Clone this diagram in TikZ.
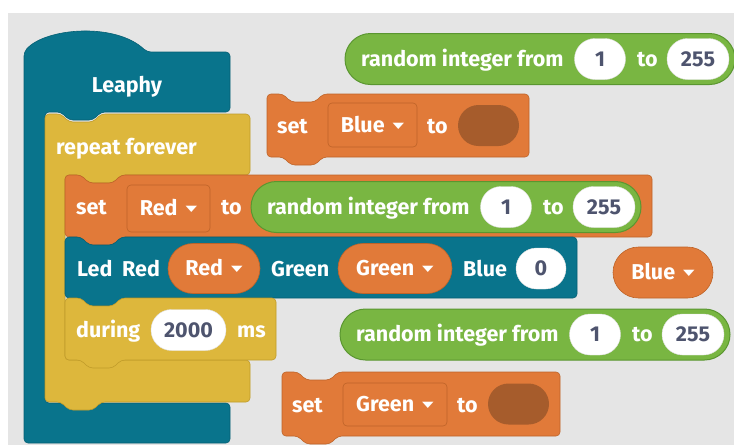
\documentclass[tikz,border=0pt]{standalone}
\usepackage{fontspec}
\usepackage{graphicx}
\setmainfont{Fira Sans}
\newfontfamily\symfont{DejaVu Sans}
\usetikzlibrary{shapes.misc, calc, positioning}
\definecolor{bgGray}{RGB}{229,229,229}
\definecolor{leaphyTeal}{RGB}{9,116,140}
\definecolor{tealEdge}{RGB}{6,96,116}
\definecolor{ctrlYellow}{RGB}{221,183,60}
\definecolor{yellowEdge}{RGB}{192,155,42}
\definecolor{varOrange}{RGB}{225,122,57}
\definecolor{orangeEdge}{RGB}{190,99,40}
\definecolor{slotBrown}{RGB}{166,92,44}
\definecolor{mathGreen}{RGB}{121,182,66}
\definecolor{greenEdge}{RGB}{90,150,48}
\definecolor{numText}{RGB}{78,84,110}
\newcommand{\blockFont}{\bfseries\fontsize{21.5}{25}\selectfont}
\tikzset{
    blockTeal/.style={fill=leaphyTeal, draw=tealEdge, line width=0.6pt, rounded corners=4pt},
    blockYellow/.style={fill=ctrlYellow, draw=yellowEdge, line width=0.6pt, rounded corners=4pt},
    blockOrange/.style={fill=varOrange, draw=orangeEdge, line width=0.6pt, rounded corners=4pt},
    txt/.style={inner sep=0pt, text=white, font=\blockFont, text height=14.8pt, text depth=0pt},
    lbl/.style={txt, anchor=west},
    numOval/.style={txt, rounded rectangle, fill=white, draw=black!12, thin, text=numText, minimum height=41pt},
    mathPill/.style={rounded rectangle, fill=mathGreen, draw=greenEdge, line width=1pt, inner sep=0pt},
    dropPill/.style={txt, rounded rectangle, fill=varOrange, draw=orangeEdge, line width=0.6pt},
    dropBox/.style={txt, rectangle, rounded corners=4pt, fill=varOrange, draw=orangeEdge, line width=0.6pt},
    emptySlot/.style={rounded rectangle, fill=slotBrown, inner sep=0pt, minimum width=61pt, minimum height=41pt},
}
\newcommand{\dropArrow}{\hspace{8pt}\raisebox{4pt}{\symfont\fontsize{15}{15}\selectfont\scalebox{1}[0.55]{▼}}}
% statement block with notch on top and tab below
\newcommand{\drawStmt}[5][]{
    \draw[#1] (#2,#3) -- ({#2+16},#3) -- ++(8,8) -- ++(24,0) -- ++(8,-8) -- (#4,#3)
        -- (#4,#5) -- ({#2+56},#5) -- ++(-8,8) -- ++(-24,0) -- ++(-8,-8) -- (#2,#5) -- cycle;
}
\newcommand{\randInt}[3]{
    \node[mathPill, minimum width=390pt, minimum height=51pt] (#1) at ({#2+195},#3) {};
    \node[lbl] (#1-txt) at ({#2+16},#3) {random integer from};
    \node[numOval, minimum width=51pt] (#1-from) at ({#2+255},#3) {1};
    \node[lbl] (#1-to) at ({#2+292},#3) {to};
    \node[numOval, minimum width=62pt] (#1-max) at ({#2+353},#3) {255};
}

\begin{document}
\begin{tikzpicture}[x=1pt, y=-1pt]

    \useasboundingbox (0,0) rectangle (734,445);
    \fill[white] (0,0) rectangle (734,445);
    \fill[bgGray] (8,13) rectangle (734,445);

    % Leaphy program block
    \draw[blockTeal] (24,52) .. controls (45,28) and (115,22) .. (147,52) -- (230,52) -- (230,112)
        -- (101,112) -- ++(-8,8) -- ++(-24,0) -- ++(-8,-8) -- (45,112) -- (45,403) -- (230,403)
        -- (230,443) -- (24,443) -- cycle;
    \node[txt] (leaphy) at (127,85) {Leaphy};

    % repeat forever
    \draw[blockYellow] (45,114) -- (61,114) -- ++(8,8) -- ++(24,0) -- ++(8,-8) -- (250,114) -- (250,175)
        -- (121,175) -- ++(-8,8) -- ++(-24,0) -- ++(-8,-8) -- (65,175) -- (65,360) -- (250,360)
        -- (250,402) -- (101,402) -- ++(-8,8) -- ++(-24,0) -- ++(-8,-8) -- (45,402) -- cycle;
    \node[lbl] (repeat) at (56,147) {repeat forever};

    % set Red
    \drawStmt[blockOrange]{65}{175}{652}{237}
    \node[lbl] (setRed) at (76,207) {set};
    \node[dropBox, minimum width=83pt, minimum height=47pt] (setRedVar) at (168.5,208.5) {Red\dropArrow};
    \node[lbl] (setRedTo) at (221,207) {to};
    \randInt{randSet}{251}{207}

    % Led
    \drawStmt[blockTeal]{65}{237}{577}{298}
    \node[lbl] (led) at (77,269) {Led};
    \node[lbl] (ledRed) at (122,269) {Red};
    \node[dropPill, minimum width=92pt, minimum height=50pt] (ledRedVar) at (214,268.5) {Red\dropArrow};
    \node[lbl] (ledGreen) at (271,269) {Green};
    \node[dropPill, minimum width=114pt, minimum height=50pt] (ledGreenVar) at (395,268.5) {Green\dropArrow};
    \node[lbl] (ledBlue) at (463,269) {Blue};
    \node[numOval, minimum width=50pt] (ledBlueVal) at (541,268.5) {0};

    % during
    \drawStmt[blockYellow]{65}{298}{276}{360}
    \node[lbl] (during) at (76,330) {during};
    \node[numOval, minimum width=75pt] (duringVal) at (188.5,330) {2000};
    \node[lbl] (duringMs) at (237,330) {ms};

    % loose blocks
    \randInt{randTop}{345}{59}
    \drawStmt[blockOrange]{267}{94}{529}{157}
    \node[lbl] (setBlue) at (277,126) {set};
    \node[dropBox, minimum width=89pt, minimum height=44pt] (setBlueVar) at (372.5,125) {Blue\dropArrow};
    \node[lbl] (setBlueTo) at (427,126) {to};
    \node[emptySlot] (setBlueSlot) at (488.5,125.5) {};

    \node[dropPill, minimum width=100pt, minimum height=51pt] (bluePill) at (663,272.5) {Blue\dropArrow};

    \randInt{randLow}{340}{334.5}
    \drawStmt[blockOrange]{282}{372}{560}{436}
    \node[lbl] (setGreen) at (292,405) {set};
    \node[dropBox, minimum width=104pt, minimum height=43pt] (setGreenVar) at (395,404.5) {Green\dropArrow};
    \node[lbl] (setGreenTo) at (457,405) {to};
    \node[emptySlot] (setGreenSlot) at (518.5,404) {};

\end{tikzpicture}
\end{document}
